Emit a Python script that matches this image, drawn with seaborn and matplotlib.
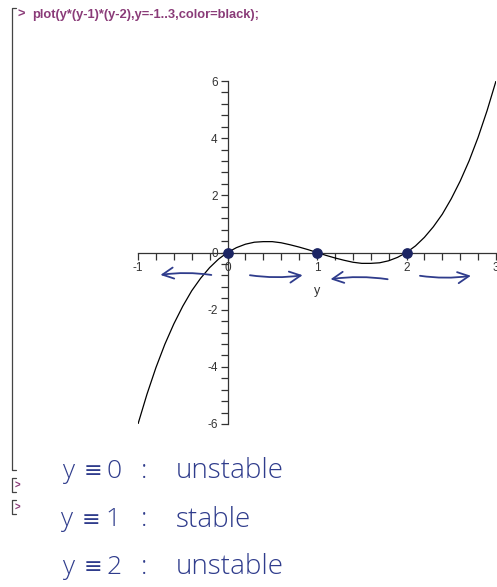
import matplotlib
matplotlib.use("Agg")
import matplotlib.pyplot as plt
import numpy as np
import pandas as pd
import seaborn as sns
from matplotlib.lines import Line2D
from matplotlib.ticker import MultipleLocator

## curve values (step 0.1)
y_vals = [-1.0, -0.9, -0.8, -0.7, -0.6, -0.5, -0.4, -0.3, -0.2, -0.1,
          0.0, 0.1, 0.2, 0.3, 0.4, 0.5, 0.6, 0.7, 0.8, 0.9,
          1.0, 1.1, 1.2, 1.3, 1.4, 1.5, 1.6, 1.7, 1.8, 1.9,
          2.0, 2.1, 2.2, 2.3, 2.4, 2.5, 2.6, 2.7, 2.8, 2.9, 3.0]
f_vals = [-6.0, -4.96, -4.03, -3.21, -2.50, -1.88, -1.34, -0.90, -0.53, -0.23,
          0.0, 0.17, 0.29, 0.36, 0.38, 0.38, 0.34, 0.27, 0.19, 0.10,
          0.0, -0.10, -0.19, -0.27, -0.34, -0.38, -0.38, -0.36, -0.29, -0.17,
          0.0, 0.23, 0.53, 0.90, 1.34, 1.88, 2.50, 3.21, 4.03, 4.96, 6.0]

## equilibria and direction of flow
equilibria = [0, 1, 2]
arrow_from = [-0.15, 0.22, 1.82, 2.12]
arrow_to = [-0.78, 0.87, 1.12, 2.75]
arrow_level = [-0.8, -0.78, -0.95, -0.8]

tick_x = [-1, 0, 1, 2, 3]
tick_y = [-6, -4, -2, 0, 2, 4, 6]

note_values = ["0", "1", "2"]
note_words = ["unstable", "stable", "unstable"]

command = "plot(y*(y-1)*(y-2),y=-1..3,color=black);"

W, H = 497, 587
sns.set_style("white")
plt.rcParams['font.family'] = ['Liberation Sans', 'DejaVu Sans']

fig = plt.figure(figsize=(W / 100, H / 100), dpi=100)
ax = fig.add_axes([138 / W, 1 - 424 / H, 358 / W, 343 / H])

df = pd.DataFrame({"y": y_vals, "f": f_vals})
sns.lineplot(data=df, x="y", y="f", color="black", lw=0.9, ax=ax)

ax.set_xlim(-1, 3)
ax.set_ylim(-6, 6)
for s in ["top", "right"]:
    ax.spines[s].set_visible(False)
ax.spines["left"].set_position(("data", 0))
ax.spines["bottom"].set_position(("data", 0))
for s in ["left", "bottom"]:
    ax.spines[s].set_linewidth(0.9)
    ax.spines[s].set_color("#333333")

ax.set_xticks(tick_x)
ax.set_xticklabels([str(t) for t in tick_x])
ax.set_yticks(tick_y)
ax.set_yticklabels([str(t) for t in tick_y])
ax.xaxis.set_minor_locator(MultipleLocator(0.2))
ax.yaxis.set_minor_locator(MultipleLocator(0.4))
ax.tick_params(which="both", direction="out", length=5, width=0.9,
               color="#333333", labelsize=8.5, labelcolor="#333333", pad=2)
ax.tick_params(axis="x", which="both", bottom=True, top=False)
ax.tick_params(axis="y", which="both", left=True, right=False)
ax.set_xlabel("")
ax.set_ylabel("")
ax.text(1, -1.35, "y", fontsize=9, color="#333333", ha="center", va="center")
ax.patch.set_alpha(0)
for lbl in ax.get_xticklabels() + ax.get_yticklabels():
    lbl.set_clip_on(False)

## hand drawn marks
pen = "#2f3c8c"
ax.scatter(equilibria, [0] * len(equilibria), s=45, color="#1c2563",
           zorder=5, clip_on=False, marker="o")
for a, b, lv in zip(arrow_from, arrow_to, arrow_level):
    ax.annotate("", xy=(b, lv), xytext=(a, lv),
                arrowprops=dict(arrowstyle="->,head_width=0.4,head_length=0.8",
                                color=pen, lw=1.3,
                                connectionstyle="arc3,rad=0.08"))

## maple worksheet decoration
def fx(px):
    return px / W

def fy(py):
    return 1 - py / H

purple = "#8a3b78"
fig.add_artist(Line2D([fx(16), fx(12), fx(12), fx(16)],
                      [fy(8), fy(8), fy(470), fy(470)], color="#444444", lw=0.9))
for top in [478, 500]:
    fig.add_artist(Line2D([fx(16), fx(12), fx(12), fx(16)],
                          [fy(top), fy(top), fy(top + 14), fy(top + 14)],
                          color="#444444", lw=0.9))
    fig.text(fx(15), fy(top + 8), ">", color=purple, fontsize=7, fontweight="bold",
             va="center")
fig.text(fx(17), fy(15), ">", color=purple, fontsize=9.3, fontweight="bold",
         va="center")
fig.text(fx(32), fy(15), command, color=purple, fontsize=9.3, fontweight="bold",
         va="center")

hand = ['Open Sans']
rows = [471, 520, 567]
starts = [62, 60, 62]
for val, word, py, x0 in zip(note_values, note_words, rows, starts):
    fig.text(fx(x0), fy(py), "y", color=pen, fontsize=19, family=hand,
             fontweight="light", va="center")
    fig.text(fx(x0 + 22), fy(py), "\u2261", color=pen, fontsize=16,
             family=['DejaVu Sans'], va="center")
    fig.text(fx(x0 + 45), fy(py), val, color=pen, fontsize=19, family=hand,
             fontweight="light", va="center")
    fig.text(fx(141), fy(py), ":", color=pen, fontsize=19, family=hand,
             fontweight="light", va="center")
    fig.text(fx(176), fy(py), word, color=pen, fontsize=20, family=hand,
             fontweight="light", va="center")

fig.savefig("out.png", dpi=100)
